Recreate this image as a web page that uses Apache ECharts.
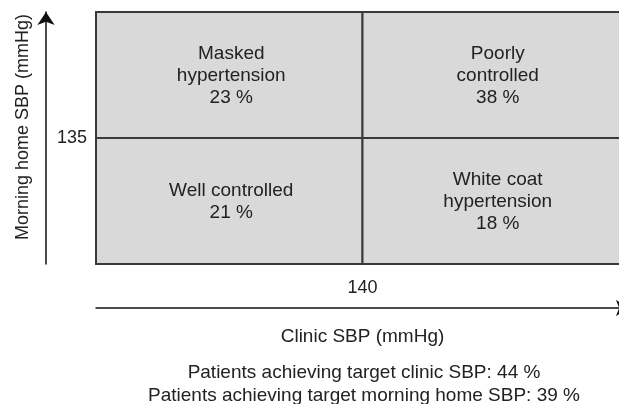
<!DOCTYPE html>
<html>
<head>
<meta charset="utf-8">
<script src="https://cdn.jsdelivr.net/npm/echarts@6/dist/echarts.min.js"></script>
<style>html,body{margin:0;padding:0;background:#fff;}#c{width:619px;height:404px;}</style>
</head>
<body>
<div id="c"></div>
<script>
// Thresholds (mmHg)
var clinicThreshold = 140;
var homeThreshold = 135;
// Axis ranges (conceptual)
var clinicRange = [120, 160];
var homeRange = [125, 145];
// Quadrant categories and shares
var quadrantNames = ['Masked\nhypertension', 'Poorly\ncontrolled', 'Well controlled', 'White coat\nhypertension'];
var quadrantPercent = [23, 38, 21, 18];
// Quadrant extents: [clinic low, clinic high], [home low, home high]
var quadrantClinic = [[120, 140], [140, 160], [120, 140], [140, 160]];
var quadrantHome = [[135, 145], [135, 145], [125, 135], [125, 135]];
var footnotes = ['Patients achieving target clinic SBP: 44 %', 'Patients achieving target morning home SBP: 39 %'];
var xName = 'Clinic SBP (mmHg)';
var yName = 'Morning home SBP (mmHg)';

var FONT = '"Liberation Sans", Arial, sans-serif';
var data = quadrantNames.map(function (n, i) {
  return [quadrantClinic[i][0], quadrantClinic[i][1], quadrantHome[i][0], quadrantHome[i][1], n + '\n' + quadrantPercent[i] + ' %'];
});

var chart = echarts.init(document.getElementById('c'), null, {renderer: 'canvas'});
chart.setOption({
  animation: false,
  textStyle: {fontFamily: FONT},
  grid: {left: 96, right: -10, top: 12, bottom: 140, containLabel: false, outerBoundsMode: 'none'},
  xAxis: [{
    type: 'value', min: clinicRange[0], max: clinicRange[1],
    axisLine: {show: false}, axisTick: {show: false}, splitLine: {show: false},
    axisLabel: {customValues: [clinicThreshold], margin: 15, fontSize: 18, color: '#222', fontFamily: FONT}
  }, {
    type: 'value', min: clinicRange[0], max: clinicRange[1], position: 'bottom', offset: 44,
    axisLine: {show: true, symbol: ['none', 'arrow'], symbolSize: [12, 13], lineStyle: {color: '#111', width: 1.5}},
    axisTick: {show: false}, axisLabel: {show: false}, splitLine: {show: false},
    name: xName, nameLocation: 'middle', nameGap: 19,
    nameTextStyle: {fontSize: 19, color: '#222', fontFamily: FONT}
  }],
  yAxis: [{
    type: 'value', min: homeRange[0], max: homeRange[1],
    axisLine: {show: false}, axisTick: {show: false}, splitLine: {show: false},
    axisLabel: {customValues: [homeThreshold], margin: 9, fontSize: 18, color: '#222', fontFamily: FONT}
  }, {
    type: 'value', min: homeRange[0], max: homeRange[1], position: 'left', offset: 50,
    axisLine: {show: true, symbol: ['none', 'arrow'], symbolSize: [13, 13], lineStyle: {color: '#111', width: 1.5}},
    axisTick: {show: false}, axisLabel: {show: false}, splitLine: {show: false},
    name: yName, nameLocation: 'middle', nameGap: 14, nameRotate: 90,
    nameTextStyle: {fontSize: 18, color: '#222', fontFamily: FONT, padding: [0, 0, 0, 22]}
  }],
  series: [{
    type: 'custom',
    xAxisIndex: 0, yAxisIndex: 0,
    data: data,
    renderItem: function (params, api) {
      var p0 = api.coord([api.value(0), api.value(3)]);
      var p1 = api.coord([api.value(1), api.value(2)]);
      var label = data[params.dataIndex][4];
      return {
        type: 'group',
        children: [{
          type: 'rect',
          shape: {x: p0[0], y: p0[1], width: p1[0] - p0[0], height: p1[1] - p0[1]},
          style: {fill: '#d9d9d9', stroke: '#3a3a3a', lineWidth: 2}
        }, {
          type: 'text',
          x: (p0[0] + p1[0]) / 2 + 2, y: (p0[1] + p1[1]) / 2 + 1,
          style: {text: label, fontSize: 19, lineHeight: 22, fill: '#222', align: 'center', verticalAlign: 'middle', fontFamily: FONT}
        }]
      };
    }
  }],
  graphic: [{
    type: 'text', x: 364, y: 373,
    style: {text: footnotes[0], fontSize: 19, fill: '#222', align: 'center', verticalAlign: 'middle', fontFamily: FONT}
  }, {
    type: 'text', x: 364, y: 396,
    style: {text: footnotes[1], fontSize: 19, fill: '#222', align: 'center', verticalAlign: 'middle', fontFamily: FONT}
  }]
});
</script>
</body>
</html>
